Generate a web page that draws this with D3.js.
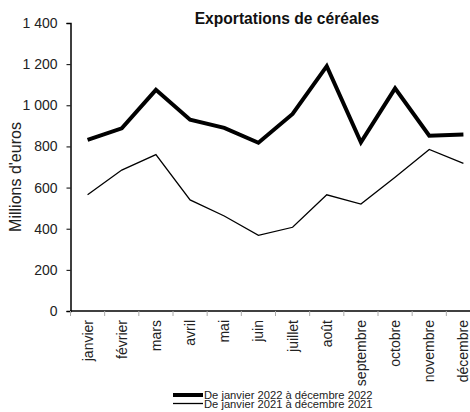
<!DOCTYPE html>
<html><head><meta charset="utf-8">
<script src="https://cdn.jsdelivr.net/npm/d3@7"></script>
<style>body{margin:0;background:#fff;} svg{display:block;font-family:Arial,"Liberation Sans",sans-serif;}</style>
</head><body><svg id="c" width="470" height="412"></svg>
<script>
const months = ["janvier","février","mars","avril","mai","juin","juillet","août","septembre","octobre","novembre","décembre"];
const values2022 = [832, 888, 1075, 930, 890, 818, 958, 1190, 820, 1082, 852, 858];
const values2021 = [565, 685, 760, 540, 462, 368, 407, 565, 520, 650, 785, 718];
const yTicks = [0, 200, 400, 600, 800, 1000, 1200, 1400];
const seriesNames = ["De janvier 2022 à décembre 2022", "De janvier 2021 à décembre 2021"];

const svg = d3.select("#c");
const x = d3.scaleBand().domain(months).range([70.5, 480.5]);
const y = d3.scaleLinear().domain([0, 1400]).range([311, 23]);
const fmt = v => d3.format(",")(v).replace(/,/g, " ");

// y axis
const ya = svg.append("g").attr("transform", "translate(70.5,0)")
  .call(d3.axisLeft(y).tickValues(yTicks).tickFormat(fmt).tickSize(4).tickPadding(9));
ya.select(".domain").attr("stroke", "#000").attr("stroke-width", 1.5);
ya.selectAll(".tick line").attr("stroke", "#000");
ya.selectAll(".tick text").attr("font-size", 14).attr("fill", "#222").attr("font-family", "Arial, 'Liberation Sans', sans-serif");

// x axis
const xa = svg.append("g").attr("transform", "translate(0,311)")
  .call(d3.axisBottom(x).tickSize(0).tickPadding(0));
xa.select(".domain").remove();
svg.append("line").attr("x1", 70).attr("x2", 470).attr("y1", 311).attr("y2", 311)
  .attr("stroke", "#000").attr("stroke-width", 1.5);
// band boundary ticks
svg.append("g").selectAll("line").data(months).join("line")
  .attr("x1", d => x(d)).attr("x2", d => x(d)).attr("y1", 311).attr("y2", 316)
  .attr("stroke", "#aaa").attr("stroke-width", 1);
xa.selectAll(".tick text")
  .attr("font-size", 14).attr("fill", "#222").attr("font-family", "Arial, 'Liberation Sans', sans-serif")
  .attr("text-anchor", "end")
  .attr("transform", "translate(0,9) rotate(-90)")
  .attr("x", 0).attr("y", 0).attr("dy", "0.36em");

// lines
const line = d3.line().x((d, i) => x(months[i]) + x.bandwidth() / 2).y(d => y(d));
svg.append("path").datum(values2021).attr("d", line)
  .attr("fill", "none").attr("stroke", "#000").attr("stroke-width", 1.3).attr("stroke-linejoin", "miter");
svg.append("path").datum(values2022).attr("d", line)
  .attr("fill", "none").attr("stroke", "#000").attr("stroke-width", 4).attr("stroke-linejoin", "miter");

// title
svg.append("text").attr("x", 287).attr("y", 24).attr("text-anchor", "middle")
  .attr("font-size", 15.6).attr("font-weight", "bold").attr("fill", "#111").text("Exportations de céréales");

// y title
svg.append("text").attr("transform", "translate(21,177) rotate(-90)").attr("text-anchor", "middle")
  .attr("font-size", 16).attr("fill", "#222").text("Millions d'euros");

// legend
const lg = svg.append("g");
const widths = [4, 1.3];
seriesNames.forEach((n, i) => {
  const yy = 395 + i * 8.5;
  lg.append("line").attr("x1", 173).attr("x2", 203).attr("y1", yy).attr("y2", yy)
    .attr("stroke", "#000").attr("stroke-width", widths[i]);
  lg.append("text").attr("x", 204).attr("y", yy + 4).attr("font-size", 11.2).attr("fill", "#222").text(n);
});
</script></body></html>
